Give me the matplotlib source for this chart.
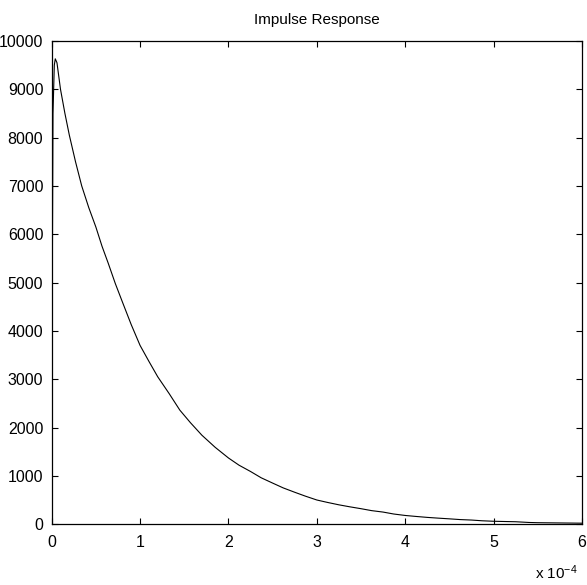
import matplotlib
matplotlib.use("Agg")
import matplotlib.pyplot as plt

plt.rcParams['font.family'] = ['Liberation Sans', 'DejaVu Sans']
plt.rcParams['mathtext.fontset'] = 'custom'
plt.rcParams['mathtext.rm'] = 'Liberation Sans'
plt.rcParams['mathtext.it'] = 'Liberation Sans'

# time in units of 1e-4 s
t = [0, 0.005, 0.015, 0.03, 0.041, 0.06, 0.1, 0.15, 0.2, 0.27, 0.34, 0.42,
     0.5, 0.57, 0.64, 0.72, 0.8, 0.9, 1.0, 1.1, 1.2, 1.33, 1.45, 1.57, 1.7,
     1.85, 2.0, 2.12, 2.25, 2.37, 2.5, 2.62, 2.75, 2.87, 3.0, 3.12, 3.25,
     3.37, 3.5, 3.62, 3.75, 3.87, 4.0, 4.12, 4.25, 4.37, 4.5, 4.62, 4.75,
     4.87, 5.0, 5.12, 5.25, 5.4, 5.5, 5.75, 6.0]
h = [0, 4000, 8500, 9500, 9630, 9550, 9000, 8500, 8050, 7500, 7000, 6550,
     6150, 5750, 5400, 4980, 4600, 4130, 3700, 3370, 3050, 2700, 2360, 2100,
     1840, 1590, 1370, 1220, 1090, 960, 850, 750, 660, 580, 500, 450, 400,
     360, 320, 280, 250, 210, 180, 160, 140, 125, 110, 95, 85,
     70, 60, 55, 50, 35, 30, 25, 20]

xticks = [0, 1, 2, 3, 4, 5, 6]
yticks = [0, 1000, 2000, 3000, 4000, 5000, 6000, 7000, 8000, 9000, 10000]

fig = plt.figure(figsize=(5.87, 5.85), dpi=100)
ax = fig.add_axes([0.088, 0.104, 0.9035, 0.826])
ax.plot(t, h, color='black', linewidth=0.8)
ax.set_xlim(0, 6)
ax.set_ylim(0, 10000)
ax.set_xticks(xticks)
ax.set_yticks(yticks)
ax.set_xticklabels([str(v) for v in xticks])
ax.set_yticklabels([str(v) for v in yticks])
ax.tick_params(direction='in', length=4, width=0.8, top=True, right=True,
               labelsize=11.5, colors='black')
ax.tick_params(axis='x', pad=8)
ax.tick_params(axis='y', pad=6)
for s in ax.spines.values():
    s.set_linewidth(0.9)
    s.set_color('black')
ax.set_title('Impulse Response', fontsize=11, pad=12)
fig.text(0.985, 0.01, r'x 10$^{-4}$', ha='right', va='baseline', fontsize=11)
fig.savefig('out.png', dpi=100, facecolor='white')
